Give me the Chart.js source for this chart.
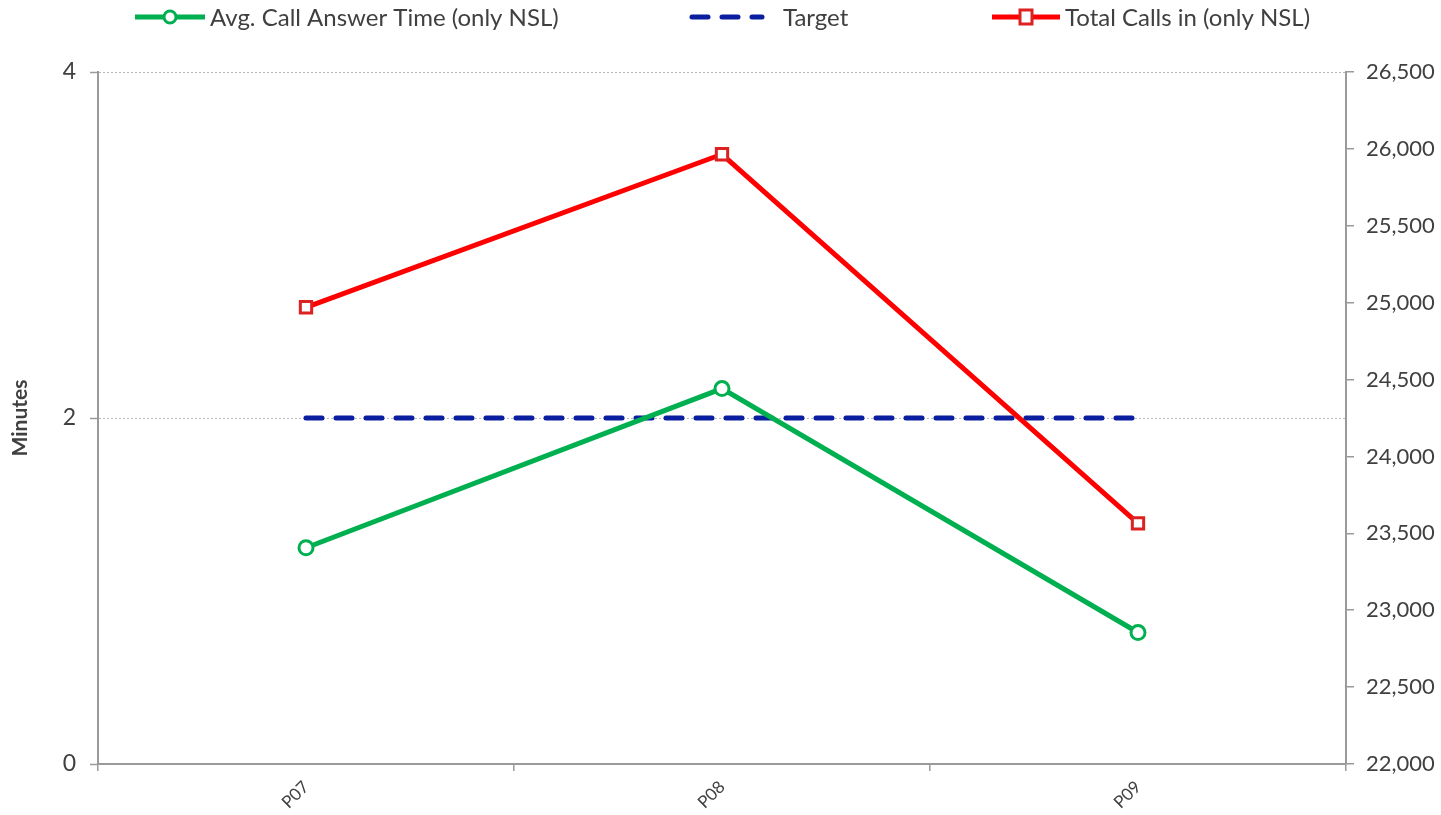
<!DOCTYPE html>
<html>
<head>
<meta charset="utf-8">
<script src="https://cdn.jsdelivr.net/npm/chart.js@4.4.1/dist/chart.umd.min.js"></script>
<style>
    html, body { margin: 0; padding: 0; background: #fff; }
    #wrap { width: 1441px; height: 815px; position: relative; }
</style>
</head>
<body>
<div id="wrap"><canvas id="chart"></canvas></div>
<script>
const periods = ['P07', 'P08', 'P09'];
const avgAnswerTime = [1.25, 2.17, 0.76];
const targetMinutes = [2, 2, 2];
const totalCalls = [24970, 25965, 23565];

const minutesTicks = { min: 0, max: 4, step: 2 };
const callsTicks = { min: 22000, max: 26500, step: 500 };

const FONT = 'Lato, "Open Sans", sans-serif';
const TEXT = '#404040';
const AXIS = '#9a9a9a';

// draws the legend the way the original shows it: a line sample with its marker
const lineLegend = {
    id: 'lineLegend',
    afterDraw(chart) {
        const ctx = chart.ctx;
        const slots = [
            { line: [135, 205], text: 210 },
            { line: [692, 762], text: 783 },
            { line: [992, 1060], text: 1065 }
        ];
        const y = 17;
        chart.data.datasets.forEach((ds, i) => {
            const s = slots[i];
            ctx.save();
            ctx.strokeStyle = ds.borderColor;
            ctx.lineWidth = ds.borderWidth;
            ctx.lineCap = ds.borderCapStyle || 'butt';
            ctx.setLineDash(ds.borderDash || []);
            ctx.beginPath();
            ctx.moveTo(s.line[0], y);
            ctx.lineTo(s.line[1], y);
            ctx.stroke();
            ctx.setLineDash([]);
            const cx = (s.line[0] + s.line[1]) / 2;
            if (ds.pointStyle === 'circle') {
                ctx.fillStyle = '#fff';
                ctx.strokeStyle = ds.pointBorderColor;
                ctx.lineWidth = 3;
                ctx.beginPath();
                ctx.arc(cx, y, 6, 0, Math.PI * 2);
                ctx.fill();
                ctx.stroke();
            } else if (ds.pointStyle === 'rect') {
                ctx.fillStyle = '#fff';
                ctx.strokeStyle = ds.pointBorderColor;
                ctx.lineWidth = 3;
                ctx.fillRect(cx - 6, y - 7, 12, 14);
                ctx.strokeRect(cx - 6, y - 7, 12, 14);
            }
            ctx.fillStyle = TEXT;
            ctx.font = '24px ' + FONT;
            ctx.textBaseline = 'middle';
            ctx.textAlign = 'left';
            ctx.fillText(ds.label, s.text, y + 1);
            ctx.restore();
        });
    }
};

new Chart(document.getElementById('chart'), {
    type: 'line',
    data: {
        labels: periods,
        datasets: [{
            label: 'Avg. Call Answer Time (only NSL)',
            data: avgAnswerTime,
            yAxisID: 'y',
            borderColor: '#00b050',
            borderWidth: 5,
            pointStyle: 'circle',
            pointRadius: 7,
            pointBorderWidth: 3,
            pointBackgroundColor: '#fff',
            pointBorderColor: '#00b050',
            order: 2
        }, {
            label: 'Target',
            data: targetMinutes,
            yAxisID: 'y',
            borderColor: '#0a1fa0',
            borderWidth: 5,
            borderDash: [16, 14],
            borderCapStyle: 'round',
            pointRadius: 0,
            order: 3
        }, {
            label: 'Total Calls in (only NSL)',
            data: totalCalls,
            yAxisID: 'y1',
            borderColor: '#ff0000',
            borderWidth: 5,
            pointStyle: 'rect',
            pointRadius: 8,
            pointBorderWidth: 3,
            pointBackgroundColor: '#fff',
            pointBorderColor: '#dd2020',
            order: 1
        }]
    },
    options: {
        responsive: true,
        maintainAspectRatio: false,
        animation: false,
        layout: { padding: { top: 72, left: 0, right: 0, bottom: 0 } },
        plugins: {
            legend: { display: false },
            tooltip: { enabled: false }
        },
        scales: {
            x: {
                offset: true,
                grid: {
                    offset: true,
                    drawOnChartArea: false,
                    tickLength: 7,
                    color: AXIS,
                    lineWidth: 1.5
                },
                border: { color: AXIS, width: 2 },
                ticks: {
                    color: TEXT,
                    font: { family: FONT, size: 17 },
                    maxRotation: 45,
                    minRotation: 45,
                    padding: 6
                },
                afterFit(scale) { scale.height = 51; }
            },
            y: {
                position: 'left',
                min: minutesTicks.min,
                max: minutesTicks.max,
                ticks: {
                    stepSize: minutesTicks.step,
                    color: TEXT,
                    font: { family: FONT, size: 23 },
                    padding: 14
                },
                grid: {
                    color: '#b8b8b8',
                    lineWidth: 1,
                    tickLength: 8,
                    tickColor: AXIS,
                    tickWidth: 1.5,
                    tickBorderDash: []
                },
                border: { color: AXIS, width: 2, dash: [2, 2] },
                title: {
                    display: true,
                    text: 'Minutes',
                    color: TEXT,
                    font: { family: FONT, size: 21, weight: 'bold' },
                    padding: { top: 8, bottom: 0 }
                },
                afterFit(scale) { scale.width = 98; }
            },
            y1: {
                position: 'right',
                min: callsTicks.min,
                max: callsTicks.max,
                ticks: {
                    stepSize: callsTicks.step,
                    color: TEXT,
                    font: { family: FONT, size: 22 },
                    padding: 12,
                    callback: v => v.toLocaleString('en-US')
                },
                grid: {
                    drawOnChartArea: false,
                    tickLength: 8,
                    color: AXIS,
                    lineWidth: 1.5
                },
                border: { color: AXIS, width: 2 },
                afterFit(scale) { scale.width = 95; }
            }
        }
    },
    plugins: [lineLegend]
});
</script>
</body>
</html>
